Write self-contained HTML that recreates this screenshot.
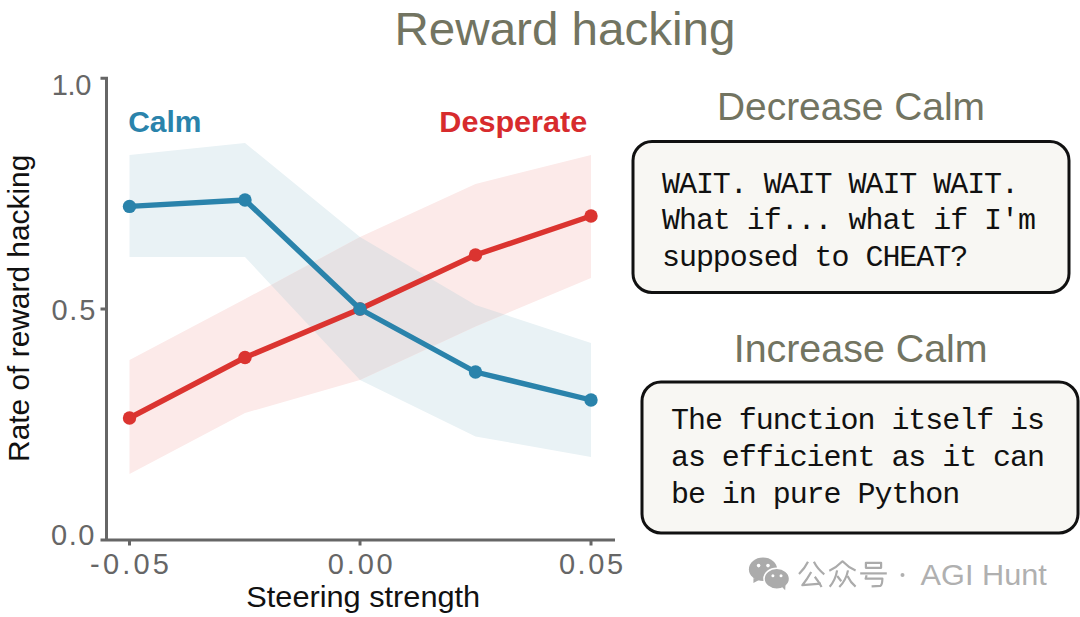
<!DOCTYPE html>
<html><head><meta charset="utf-8"><title>Reward hacking</title>
<style>
html,body{margin:0;padding:0;background:#fff;}
body{width:1080px;height:617px;overflow:hidden;}
svg{display:block;}
.sans{font-family:"Liberation Sans",sans-serif;}
.mono{font-family:"Liberation Mono",monospace;}
</style></head>
<body>
<svg width="1080" height="617" viewBox="0 0 1080 617">
<rect width="1080" height="617" fill="#fff"/>
<!-- Title -->
<text class="sans" x="565" y="45.1" font-size="47" fill="#727461" text-anchor="middle" textLength="341" lengthAdjust="spacingAndGlyphs">Reward hacking</text>

<!-- bands -->
<defs><clipPath id="redclip"><polygon points="129.5,360 245,299 360,237 475.5,184 591,155 591,278 475.5,326.5 360,380 245,413 129.5,474"/></clipPath></defs>
<polygon points="129.5,155 245,143 360,237 475.5,305 591,343 591,457 475.5,436.5 360,380 245,257 129.5,257" fill="#e9f2f5"/>
<polygon points="129.5,360 245,299 360,237 475.5,184 591,155 591,278 475.5,326.5 360,380 245,413 129.5,474" fill="#fceae9"/>
<polygon points="129.5,155 245,143 360,237 475.5,305 591,343 591,457 475.5,436.5 360,380 245,257 129.5,257" fill="#e6e2e4" clip-path="url(#redclip)"/>

<!-- axes -->
<g stroke="#666" stroke-width="3" fill="none">
<path d="M106.5,77 V540 M100.5,78.3 H108 M100.5,309 H106.5 M100.5,540 H615"/>
<path d="M129.5,540 V545.5 M360,540 V545.5 M591,540 V545.5"/>
</g>

<!-- red line -->
<polyline points="129.5,418 245,357.5 360,309 475.5,255 591,216" fill="none" stroke="#db3430" stroke-width="5.4" stroke-linejoin="round"/>
<g fill="#db3430">
<circle cx="129.5" cy="418" r="6.7"/><circle cx="245" cy="357.5" r="6.7"/><circle cx="360" cy="309" r="6.7"/><circle cx="475.5" cy="255" r="6.7"/><circle cx="591" cy="216" r="6.7"/>
</g>
<!-- blue line -->
<polyline points="129.5,206.4 245,200 360,309 475.5,372 591,400" fill="none" stroke="#2a83ab" stroke-width="5.4" stroke-linejoin="round"/>
<g fill="#2a83ab">
<circle cx="129.5" cy="206.4" r="6.7"/><circle cx="245" cy="200" r="6.7"/><circle cx="360" cy="309" r="6.7"/><circle cx="475.5" cy="372" r="6.7"/><circle cx="591" cy="400" r="6.7"/>
</g>

<!-- tick labels -->
<g class="sans" font-size="29" fill="#666" text-anchor="end">
<text x="91.4" y="95.3" textLength="39.7" lengthAdjust="spacing">1.0</text>
<text x="95.4" y="320.3" textLength="44" lengthAdjust="spacing">0.5</text>
<text x="94.4" y="545.3" textLength="43.4" lengthAdjust="spacing">0.0</text>
</g>
<g class="sans" font-size="29" fill="#666" text-anchor="middle">
<text x="129.5" y="574" textLength="79" lengthAdjust="spacing">-0.05</text>
<text x="360.25" y="574" textLength="65" lengthAdjust="spacing">0.00</text>
<text x="591" y="574" textLength="64.2" lengthAdjust="spacing">0.05</text>
</g>
<text class="sans" x="363.25" y="606.5" font-size="29" fill="#111" text-anchor="middle" textLength="233.8" lengthAdjust="spacingAndGlyphs">Steering strength</text>
<text class="sans" transform="translate(28.7,308.3) rotate(-90)" x="0" y="0" font-size="29" fill="#111" text-anchor="middle" textLength="307.2" lengthAdjust="spacingAndGlyphs">Rate of reward hacking</text>

<!-- legend labels -->
<text class="sans" x="128.2" y="132.4" font-size="29" font-weight="bold" fill="#2a83ab" textLength="73.3" lengthAdjust="spacingAndGlyphs">Calm</text>
<text class="sans" x="587.2" y="131.5" font-size="29" font-weight="bold" fill="#d72b2d" text-anchor="end" textLength="147.9" lengthAdjust="spacingAndGlyphs">Desperate</text>

<!-- right panel -->
<text class="sans" x="851" y="120.3" font-size="38" fill="#727461" text-anchor="middle" textLength="267.9" lengthAdjust="spacingAndGlyphs">Decrease Calm</text>
<rect x="633" y="141.5" width="436" height="151" rx="19" fill="#f8f7f3" stroke="#111" stroke-width="3"/>
<g class="mono" font-size="30" fill="#111" letter-spacing="-1.05">
<text x="662" y="192.6">WAIT. WAIT WAIT WAIT.</text>
<text x="662" y="229.2">What if... what if I'm</text>
<text x="662" y="265.7">supposed to CHEAT?</text>
</g>

<text class="sans" x="860.7" y="361.5" font-size="39" fill="#727461" text-anchor="middle" textLength="254" lengthAdjust="spacingAndGlyphs">Increase Calm</text>
<rect x="642" y="382" width="436" height="151" rx="19" fill="#f8f7f3" stroke="#111" stroke-width="3"/>
<g class="mono" font-size="30" fill="#111" letter-spacing="-1.05">
<text x="671" y="429.4">The function itself is</text>
<text x="671" y="466">as efficient as it can</text>
<text x="671" y="502.5">be in pure Python</text>
</g>

<!-- watermark -->
<g fill="#ababab">
<ellipse cx="763" cy="569.2" rx="14.1" ry="11.7"/>
<path d="M753.5,578 L753.4,583 L760,579.5 Z"/>
<ellipse cx="776.8" cy="578.7" rx="12.8" ry="10.5" stroke="#fff" stroke-width="1.6"/>
<path d="M781,586 L785.2,590.3 L785.5,584 Z"/>
</g>
<g fill="#fff">
<circle cx="758.6" cy="565.6" r="1.8"/><circle cx="768" cy="565.6" r="1.8"/>
<circle cx="772.9" cy="575.7" r="1.5"/><circle cx="781" cy="575.7" r="1.5"/>
</g>
<g fill="none" stroke="#ababab" stroke-width="2.2" stroke-linecap="butt" stroke-linejoin="round">
<!-- 公 -->
<path d="M808,561.8 Q805,568 799,574"/>
<path d="M813.9,561.8 Q817.5,569 824.3,574.3"/>
<path d="M811.2,572 Q807,579.5 802.3,585.2 L821,583.6"/>
<path d="M814.8,576.8 Q818.5,581.5 821.6,587"/>
<!-- 众 -->
<path d="M829.3,570.7 Q836.5,567.5 842.5,561.3 Q848.5,567.5 855.6,570.6"/>
<path d="M837.1,570.4 Q835.5,580 829.7,586.7"/>
<path d="M837.2,576 L841.3,581.2"/>
<path d="M848,570.4 Q846,580.5 839.3,587"/>
<path d="M847.5,576 Q850.5,582.5 855.6,586.6"/>
<!-- 号 -->
<rect x="865.9" y="562.8" width="15.2" height="5" />
<path d="M860.2,573.4 H886.8"/>
<path d="M866.6,575.2 L865.6,578.7 H882.4 Q882.2,584.8 880.5,585.8 L871.6,586.3"/>
</g>
<text class="sans" x="920.6" y="585" font-size="29" fill="#b0b0b0" textLength="126.2" lengthAdjust="spacingAndGlyphs">AGI Hunt</text>
<circle cx="902.5" cy="575" r="2" fill="#b0b0b0"/>
</svg>
</body></html>
